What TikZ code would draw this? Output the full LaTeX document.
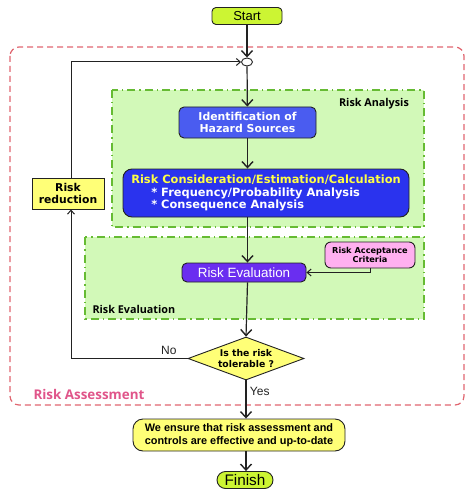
\documentclass[tikz,border=0pt]{standalone}
\usepackage{fontspec}
\setmainfont{Liberation Sans}
\newfontfamily\dvfont{DejaVu Sans}
\newfontfamily\osfont{Open Sans}
\usetikzlibrary{shapes.geometric,arrows.meta}
\definecolor{startgreen}{HTML}{CCF533}
\definecolor{reddash}{HTML}{E06670}
\definecolor{areafill}{HTML}{D2F9B8}
\definecolor{areaborder}{HTML}{66BB33}
\definecolor{identblue}{HTML}{4A5CF0}
\definecolor{considblue}{HTML}{2A33EE}
\definecolor{evalpurple}{HTML}{6A2EF0}
\definecolor{critpink}{HTML}{FFB0F0}
\definecolor{boxyellow}{HTML}{FFFF77}
\definecolor{titleyellow}{HTML}{FFFF44}
\definecolor{assesspink}{HTML}{E0558A}
\definecolor{linedark}{HTML}{222222}
\tikzset{
  boxbase/.style={draw=linedark, line width=0.9pt, inner sep=0pt, align=center},
  terminal/.style={boxbase, fill=startgreen, rounded corners=4pt, font=\fontsize{13}{15}\selectfont},
  bluebox/.style={boxbase, text=white, font=\dvfont\bfseries\fontsize{10.9}{12.5}\selectfont},
  yellowbox/.style={boxbase, fill=boxyellow, font=\dvfont\bfseries\fontsize{10.8}{12}\selectfont},
  area/.style={fill=areafill, draw=areaborder, line width=1.2pt, dash pattern=on 8pt off 4pt on 1.5pt off 4pt},
  arealabel/.style={font=\osfont\bfseries\fontsize{10.8}{13}\selectfont},
  flow/.style={line width=1.2pt, draw=linedark, -{Straight Barb[length=6pt,width=11pt,line width=1.4pt]}},
  thinflow/.style={line width=1pt, draw=linedark, -{Straight Barb[length=4pt,width=7pt,line width=1pt]}},
  branch/.style={font=\fontsize{12}{14}\selectfont, text=linedark}
}
\begin{document}
\begin{tikzpicture}[x=1pt,y=-1pt]
\useasboundingbox (0,0) rectangle (474,500);
% outer risk assessment frame
\draw[reddash, line width=1.2pt, dash pattern=on 6pt off 4pt, rounded corners=9pt] (10,47) rectangle (464,405);
\node[anchor=west, font=\osfont\bfseries\fontsize{13.4}{15}\selectfont, text=assesspink] (lblassess) at (30,394) {Risk Assessment};
% areas
\draw[area] (112,90) rectangle (424,227);
\draw[area] (85,237) rectangle (424,319);
\node[arealabel] (lblanalysis) at (374,104) {Risk Analysis};
\node[arealabel, anchor=west] (lbleval) at (89,309) {Risk Evaluation};
% nodes
\node[terminal, minimum width=70pt, minimum height=17pt] (start) at (247,16) {Start};
\node[draw=linedark, line width=0.9pt, fill=white, ellipse, minimum width=11pt, minimum height=8pt, inner sep=0pt] (junc) at (247,62) {};
\node[bluebox, fill=identblue, rounded corners=5pt, minimum width=137pt, minimum height=31pt] (ident) at (247.5,122.5) {Identification of\\Hazard Sources};
\node[bluebox, fill=considblue, rounded corners=9pt, minimum width=286pt, minimum height=48pt, align=left, font=\dvfont\bfseries\fontsize{11.4}{12.5}\selectfont] (consid) at (266,193)
  {\textcolor{titleyellow}{Risk Consideration/Estimation/Calculation}\\
   \hspace*{20pt}* Frequency/Probability Analysis\\
   \hspace*{20pt}* Consequence Analysis};
\node[boxbase, fill=evalpurple, text=white, rounded corners=5pt, minimum width=124pt, minimum height=19pt, font=\fontsize{13.4}{15}\selectfont] (reval) at (244,272.5) {Risk Evaluation};
\node[boxbase, fill=critpink, rounded corners=6pt, minimum width=90pt, minimum height=26pt, font=\dvfont\bfseries\fontsize{8.2}{8.6}\selectfont] (crit) at (370,255) {Risk Acceptance\\Criteria};
\node[boxbase, fill=boxyellow, diamond, aspect=2.7, minimum width=116pt, minimum height=43pt, font=\dvfont\bfseries\fontsize{9.3}{11.5}\selectfont] (dec) at (246,358.5) {Is the risk\\tolerable ?};
\node[yellowbox, minimum width=72pt, minimum height=31pt] (reduce) at (68,193.5) {Risk\\reduction};
\node[yellowbox, rounded corners=10pt, minimum width=212pt, minimum height=32pt, font=\bfseries\fontsize{10.9}{12.5}\selectfont] (ensure) at (239,435) {We ensure that risk assessment and\\controls are effective and up-to-date};
\node[terminal, rounded corners=8.5pt, minimum width=56pt, minimum height=17pt, font=\fontsize{15.3}{17}\selectfont] (finish) at (245,480) {Finish};
% connectors
\draw[flow] (start) -- (junc);
\draw[flow] (junc) -- (ident);
\draw[flow] (ident.south) -- (ident.south |- consid.north);
\draw[flow] (ident.south |- consid.south) -- (ident.south |- reval.north);
\draw[flow] (ident.south |- reval.south) -- (dec.north);
\draw[flow] (dec.south) -- (dec.south |- ensure.north) node[branch, pos=0.3, anchor=west] (yes) {Yes};
\draw[flow] (dec.south |- ensure.south) -- (dec.south |- finish.north);
\draw[thinflow] (dec.west) -| ([xshift=3pt]reduce.south) node[branch, pos=0.08, above] (no) {No};
\draw[thinflow] ([xshift=3pt]reduce.north) |- (junc.west);
\draw[thinflow] (crit.south) |- (reval.east);
\end{tikzpicture}
\end{document}
